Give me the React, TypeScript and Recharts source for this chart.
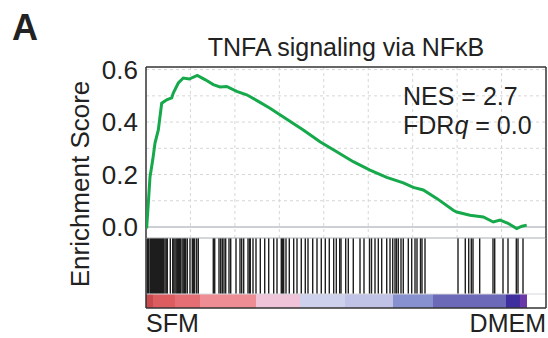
import React from "react";
import { ComposedChart, Line, XAxis, YAxis, ReferenceLine, ReferenceArea } from "recharts";

// Enrichment curve: gene rank position and running enrichment score
const curveRanks = [0, 32, 104, 180, 302, 405, 554, 706, 932, 1156, 1228, 1454, 1678, 1948, 2308, 2655, 3028, 3330, 3632, 4082, 4532, 5054, 5580, 7078, 7830, 8582, 9328, 10080, 10832, 11578, 12028, 12478, 13082, 13828, 13982, 14580, 15178, 15628, 15930, 16290, 16680, 16920, 17132];
const curveScores = [0, 0.0, 0.09, 0.191, 0.255, 0.32, 0.37, 0.472, 0.485, 0.492, 0.511, 0.549, 0.568, 0.564, 0.578, 0.562, 0.543, 0.534, 0.536, 0.517, 0.504, 0.479, 0.453, 0.37, 0.325, 0.287, 0.249, 0.217, 0.189, 0.168, 0.151, 0.141, 0.109, 0.064, 0.057, 0.045, 0.038, 0.019, 0.026, 0.014, -0.006, 0.003, 0.007];

// Gene-set hit positions (ranks)
const hitRanks = [58, 112, 180, 212, 248, 292, 338, 382, 428, 472, 518, 562, 608, 652, 698, 734, 796, 855, 909, 958, 1094, 1202, 1251, 1305, 1359, 1408, 1462, 1498, 1544, 1620, 1674, 1732, 1786, 1858, 1980, 2084, 2138, 2192, 2282, 2354, 3028, 3092, 3285, 3362, 3434, 3510, 3586, 3735, 3812, 4050, 4230, 4306, 4396, 4590, 4658, 4694, 4815, 4950, 5144, 5342, 5522, 5746, 5895, 6088, 6142, 6196, 6300, 6448, 6646, 6795, 6988, 7168, 7290, 7502, 7695, 7888, 8068, 8248, 8446, 8564, 8716, 8775, 8986, 9104, 9328, 9630, 9810, 10058, 10148, 10305, 10454, 10606, 10832, 10980, 11102, 11205, 11272, 11354, 11475, 11578, 11804, 11956, 12105, 12195, 12352, 12420, 12555, 14040, 14368, 14522, 14638, 14715, 15016, 15615, 15692, 16065, 16290, 16664, 16740, 16965];

// Ranked-list colour bar segments
const barStarts = [0, 315, 1305, 2430, 4950, 6930, 8955, 11115, 12915, 16200, 16830];
const barEnds = [315, 1305, 2430, 4950, 6930, 8955, 11115, 12915, 16200, 16830, 17145];
const barColors = ["#c84a4c", "#dc5c60", "#e56e74", "#ee8e94", "#efc3d8", "#cdd1ec", "#c0c3e6", "#8791cf", "#6c69b9", "#3e2e9e", "#6a38a8"];

const yTicks = [0, 0.2, 0.4, 0.6];
const yGrid = [0.1, 0.2, 0.3, 0.4, 0.5, 0.6];
const xGrid = [2000, 4000, 6000, 8000, 10000, 12000, 14000, 16000];

const title = "TNFA signaling via NFκB";
const yLabel = "Enrichment Score";
const panelLabel = "A";
const leftLabel = "SFM";
const rightLabel = "DMEM";
const nesText = "NES = 2.7";

const FONT = "'Liberation Sans', Arial, Helvetica, sans-serif";
const X_DOMAIN: [number, number] = [0, 18000];

const curveData = curveRanks.map((r, i) => ({ rank: r, es: curveScores[i] }));
const barData = barStarts.map((s, i) => ({ s, e: barEnds[i], c: barColors[i] }));

export default function App() {
  return (
    <div style={{ position: "absolute", left: 0, top: 0, width: 548, height: 338, background: "#fff", fontFamily: FONT }}>
      <div style={{ position: "absolute", left: 0, top: 237 }}>
        <ComposedChart width={548} height={73} data={curveData} margin={{ top: 1, right: 2, bottom: 2, left: 146 }}>
          <XAxis type="number" dataKey="rank" domain={X_DOMAIN} hide allowDataOverflow />
          <YAxis type="number" domain={[0, 1]} hide allowDataOverflow />
          {hitRanks.map((r, i) => (
            <ReferenceLine key={"h" + i} segment={[{ x: r, y: 0.2 }, { x: r, y: 1 }]} stroke="#1e1e1e" strokeWidth={1.4} />
          ))}
          {barData.map((b, i) => (
            <ReferenceArea key={"b" + i} x1={b.s} x2={b.e} y1={0} y2={0.2} fill={b.c} fillOpacity={1} stroke="none" />
          ))}
          <ReferenceLine y={0.2} stroke="#d8d8dc" strokeWidth={1} />
          <ReferenceLine y={0} stroke="#333" strokeWidth={1.5} />
          <ReferenceLine x={0} stroke="#333" strokeWidth={1.5} />
          <ReferenceLine x={18000} stroke="#333" strokeWidth={1.5} />
          <Line type="linear" dataKey="es" stroke="none" dot={false} isAnimationActive={false} />
        </ComposedChart>
      </div>
      <div style={{ position: "absolute", left: 0, top: 0 }}>
        <ComposedChart width={548} height={256} data={curveData} margin={{ top: 67, right: 2, bottom: 18, left: 86 }}>
          <XAxis type="number" dataKey="rank" domain={X_DOMAIN} hide allowDataOverflow />
          <YAxis
            type="number"
            domain={[-0.042, 0.61]}
            ticks={yTicks}
            interval={0}
            width={60}
            axisLine={false}
            tickLine={false}
            allowDataOverflow
            tickFormatter={(v: number) => v.toFixed(1)}
            tick={{ fontSize: 26, fill: "#222", fontFamily: FONT }}
          />
          {yGrid.map((v) => (
            <ReferenceLine key={"gy" + v} y={v} stroke="#d6d6d6" strokeDasharray="3 3" />
          ))}
          {xGrid.map((v) => (
            <ReferenceLine key={"gx" + v} x={v} stroke="#d6d6d6" strokeDasharray="3 3" />
          ))}
          <ReferenceLine y={0} stroke="#9aa2ab" strokeWidth={1.2} />
          <ReferenceLine y={-0.042} stroke="#a9adb2" strokeWidth={1.2} />
          <ReferenceLine y={0.61} stroke="#333" strokeWidth={1.5} />
          <ReferenceLine x={0} stroke="#333" strokeWidth={1.5} />
          <ReferenceLine x={18000} stroke="#333" strokeWidth={1.5} />
          <Line type="linear" dataKey="es" stroke="#16a94b" strokeWidth={3} dot={false} isAnimationActive={false} />
        </ComposedChart>
      </div>
      <svg width={548} height={338} style={{ position: "absolute", left: 0, top: 0, pointerEvents: "none" }}>
        <text x={12} y={40} fontSize={36} fontWeight="bold" fill="#222" fontFamily={FONT}>{panelLabel}</text>
        <text x={346} y={56} fontSize={25} fill="#222" textAnchor="middle" fontFamily={FONT}>{title}</text>
        <text x={403} y={105} fontSize={25} fill="#222" fontFamily={FONT}>{nesText}</text>
        <text x={403} y={134} fontSize={25} fill="#222" fontFamily={FONT}>
          FDR<tspan fontStyle="italic">q</tspan> = 0.0
        </text>
        <text x={0} y={0} fontSize={26} fill="#222" textAnchor="middle" fontFamily={FONT} transform="translate(89,184) rotate(-90)">{yLabel}</text>
        <text x={146} y={332} fontSize={25} fill="#222" fontFamily={FONT}>{leftLabel}</text>
        <text x={546} y={332} fontSize={25} fill="#222" textAnchor="end" fontFamily={FONT}>{rightLabel}</text>
      </svg>
    </div>
  );
}
